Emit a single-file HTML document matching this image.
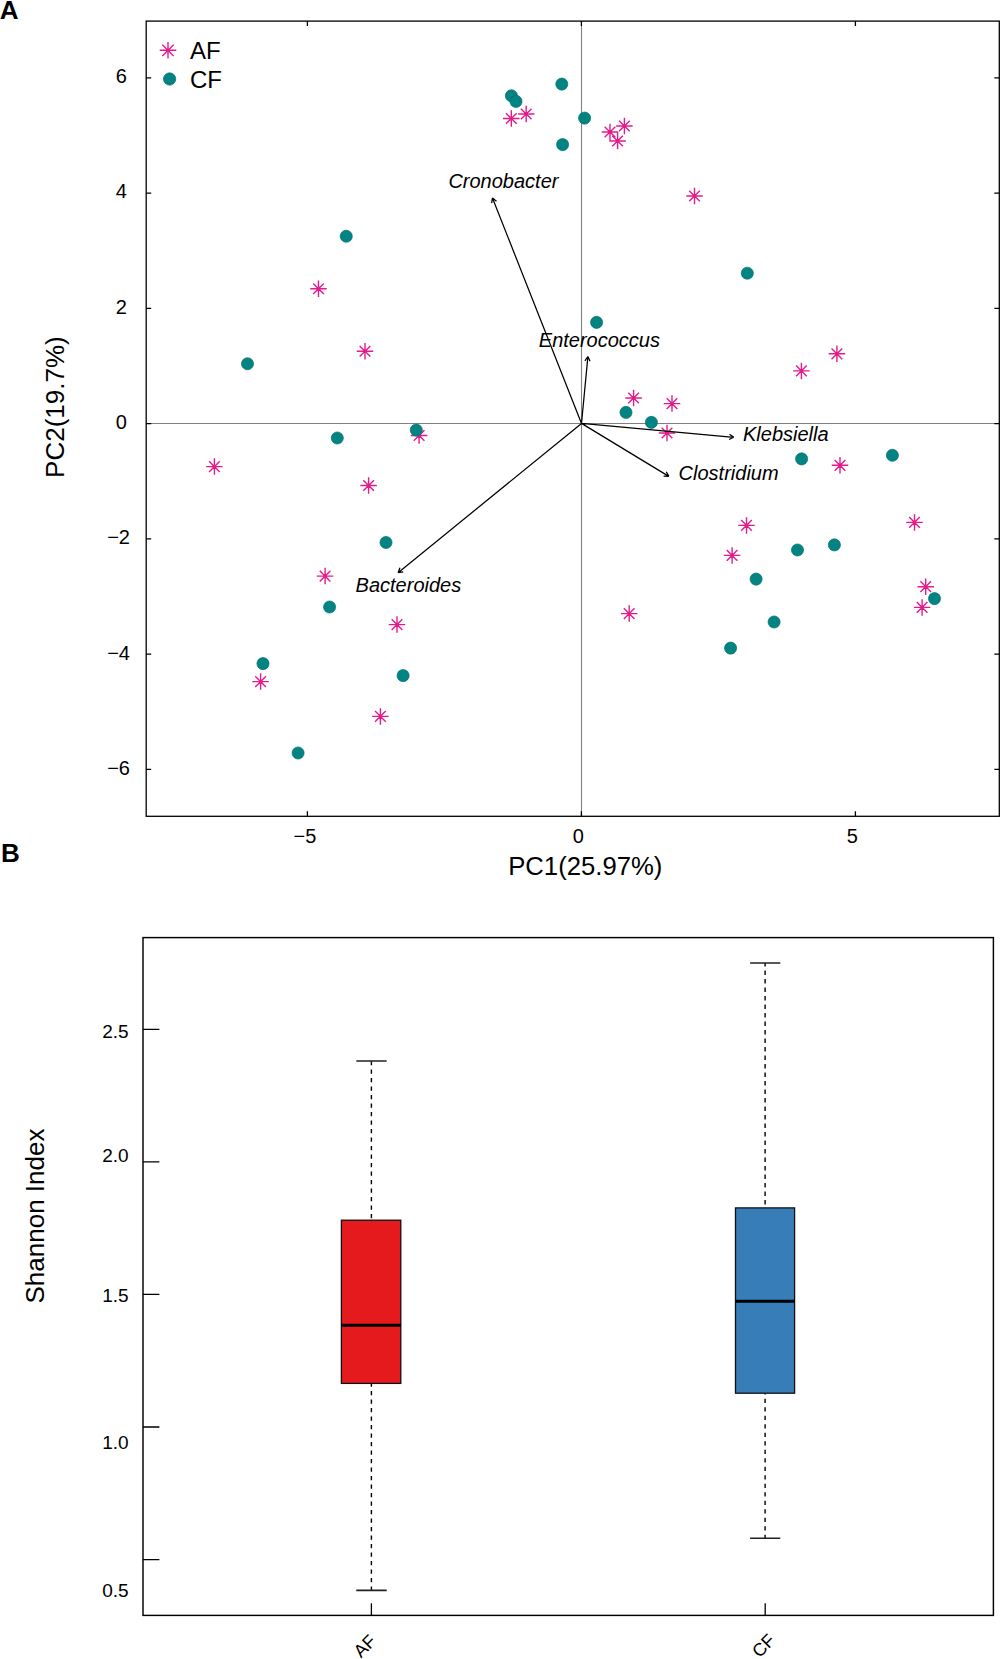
<!DOCTYPE html>
<html><head><meta charset="utf-8"><title>Figure</title>
<style>
html,body{margin:0;padding:0;background:#fff;}
body{width:1000px;height:1659px;overflow:hidden;}
svg{display:block;}
text{font-family:"Liberation Sans",sans-serif;fill:#000;}
.it{font-style:italic;font-size:20px;}
</style></head><body>
<svg width="1000" height="1659" viewBox="0 0 1000 1659">
<rect width="1000" height="1659" fill="#fff"/>

<text x="-0.3" y="18.9" font-size="26" font-weight="bold">A</text>
<text x="0.9" y="861.8" font-size="26" font-weight="bold">B</text>
<path d="M146.2 423.55H999.3M581.5 21.1V816.3" stroke="#808080" stroke-width="1.1" fill="none"/>
<path d="M307.40 816.3v-5M307.40 21.1v5M581.40 816.3v-5M581.40 21.1v5M855.40 816.3v-5M855.40 21.1v5M146.2 769.38h5M999.3 769.38h-5M146.2 654.12h5M999.3 654.12h-5M146.2 538.86h5M999.3 538.86h-5M146.2 423.60h5M999.3 423.60h-5M146.2 308.34h5M999.3 308.34h-5M146.2 193.08h5M999.3 193.08h-5M146.2 77.82h5M999.3 77.82h-5" stroke="#000" stroke-width="1.3" fill="none"/>
<text x="304.90" y="843" font-size="20" text-anchor="middle">−5</text>
<text x="578.20" y="843" font-size="20" text-anchor="middle">0</text>
<text x="852.20" y="843" font-size="20" text-anchor="middle">5</text>
<text x="130.0" y="774.78" font-size="20" text-anchor="end">−6</text>
<text x="130.0" y="659.52" font-size="20" text-anchor="end">−4</text>
<text x="130.0" y="544.26" font-size="20" text-anchor="end">−2</text>
<text x="126.8" y="429.00" font-size="20" text-anchor="end">0</text>
<text x="126.8" y="313.74" font-size="20" text-anchor="end">2</text>
<text x="126.8" y="198.48" font-size="20" text-anchor="end">4</text>
<text x="126.8" y="83.22" font-size="20" text-anchor="end">6</text>
<text x="508.2" y="874.8" font-size="25.7">PC1(25.97%)</text>
<text transform="translate(63.7 407.1) rotate(-90)" font-size="26" text-anchor="middle">PC2(19.7%)</text>
<path d="M503.05 118.50H519.55M511.30 110.25V126.75M505.95 113.15L516.65 123.85M505.95 123.85L516.65 113.15M517.95 114.00H534.45M526.20 105.75V122.25M520.85 108.65L531.55 119.35M520.85 119.35L531.55 108.65M601.75 132.00H618.25M610.00 123.75V140.25M604.65 126.65L615.35 137.35M604.65 137.35L615.35 126.65M616.15 126.00H632.65M624.40 117.75V134.25M619.05 120.65L629.75 131.35M619.05 131.35L629.75 120.65M609.35 141.00H625.85M617.60 132.75V149.25M612.25 135.65L622.95 146.35M612.25 146.35L622.95 135.65M686.25 196.00H702.75M694.50 187.75V204.25M689.15 190.65L699.85 201.35M689.15 201.35L699.85 190.65M310.25 288.75H326.75M318.50 280.50V297.00M313.15 283.40L323.85 294.10M313.15 294.10L323.85 283.40M356.75 351.25H373.25M365.00 343.00V359.50M359.65 345.90L370.35 356.60M359.65 356.60L370.35 345.90M206.15 466.60H222.65M214.40 458.35V474.85M209.05 461.25L219.75 471.95M209.05 471.95L219.75 461.25M410.85 435.50H427.35M419.10 427.25V443.75M413.75 430.15L424.45 440.85M413.75 440.85L424.45 430.15M360.35 485.50H376.85M368.60 477.25V493.75M363.25 480.15L373.95 490.85M363.25 490.85L373.95 480.15M316.85 576.10H333.35M325.10 567.85V584.35M319.75 570.75L330.45 581.45M319.75 581.45L330.45 570.75M388.75 624.60H405.25M397.00 616.35V632.85M391.65 619.25L402.35 629.95M391.65 629.95L402.35 619.25M252.35 681.60H268.85M260.60 673.35V689.85M255.25 676.25L265.95 686.95M255.25 686.95L265.95 676.25M372.15 716.40H388.65M380.40 708.15V724.65M375.05 711.05L385.75 721.75M375.05 721.75L385.75 711.05M625.35 398.00H641.85M633.60 389.75V406.25M628.25 392.65L638.95 403.35M628.25 403.35L638.95 392.65M663.75 403.60H680.25M672.00 395.35V411.85M666.65 398.25L677.35 408.95M666.65 408.95L677.35 398.25M658.75 433.00H675.25M667.00 424.75V441.25M661.65 427.65L672.35 438.35M661.65 438.35L672.35 427.65M828.65 353.80H845.15M836.90 345.55V362.05M831.55 348.45L842.25 359.15M831.55 359.15L842.25 348.45M793.15 370.90H809.65M801.40 362.65V379.15M796.05 365.55L806.75 376.25M796.05 376.25L806.75 365.55M831.75 465.30H848.25M840.00 457.05V473.55M834.65 459.95L845.35 470.65M834.65 470.65L845.35 459.95M738.25 525.40H754.75M746.50 517.15V533.65M741.15 520.05L751.85 530.75M741.15 530.75L751.85 520.05M723.85 555.40H740.35M732.10 547.15V563.65M726.75 550.05L737.45 560.75M726.75 560.75L737.45 550.05M906.25 522.40H922.75M914.50 514.15V530.65M909.15 517.05L919.85 527.75M909.15 527.75L919.85 517.05M917.45 586.70H933.95M925.70 578.45V594.95M920.35 581.35L931.05 592.05M920.35 592.05L931.05 581.35M913.85 607.40H930.35M922.10 599.15V615.65M916.75 602.05L927.45 612.75M916.75 612.75L927.45 602.05M620.95 613.60H637.45M629.20 605.35V621.85M623.85 608.25L634.55 618.95M623.85 618.95L634.55 608.25" stroke="#E41C8A" stroke-width="1.4" fill="none"/>
<g fill="#048383" stroke="#037070" stroke-width="0.7"><circle cx="561.8" cy="84.1" r="6.05"/><circle cx="511.4" cy="95.8" r="6.05"/><circle cx="516" cy="101.4" r="6.05"/><circle cx="584.6" cy="118.1" r="6.05"/><circle cx="562.6" cy="144.6" r="6.05"/><circle cx="346.25" cy="236.25" r="6.05"/><circle cx="247.5" cy="363.75" r="6.05"/><circle cx="337.3" cy="438" r="6.05"/><circle cx="416.3" cy="430.1" r="6.05"/><circle cx="386" cy="542.5" r="6.05"/><circle cx="329.6" cy="607" r="6.05"/><circle cx="263" cy="663.6" r="6.05"/><circle cx="403.1" cy="675.6" r="6.05"/><circle cx="298.1" cy="753" r="6.05"/><circle cx="596.6" cy="322.4" r="6.05"/><circle cx="626" cy="412.4" r="6.05"/><circle cx="651.4" cy="422.4" r="6.05"/><circle cx="747.3" cy="273.2" r="6.05"/><circle cx="801.6" cy="458.9" r="6.05"/><circle cx="892.4" cy="455.3" r="6.05"/><circle cx="797.5" cy="550" r="6.05"/><circle cx="834.4" cy="544.9" r="6.05"/><circle cx="756.1" cy="579.1" r="6.05"/><circle cx="774.1" cy="622" r="6.05"/><circle cx="730.6" cy="648.1" r="6.05"/><circle cx="934.5" cy="598.6" r="6.05"/></g>
<path d="M581.5 423.4L492.45 197.95M491.69 203.09L492.45 197.95M496.52 201.18L492.45 197.95M581.5 423.4L587.90 356.60M584.88 360.83L587.90 356.60M590.06 361.33L587.90 356.60M581.5 423.4L733.75 437.30M729.50 434.30L733.75 437.30M729.03 439.48L733.75 437.30M581.5 423.4L668.80 476.35M666.30 471.79L668.80 476.35M663.60 476.24L668.80 476.35M581.5 423.4L398.10 572.70M403.23 571.87L398.10 572.70M399.95 567.84L398.10 572.70" stroke="#000" stroke-width="1.25" fill="none" stroke-linecap="butt"/>
<text class="it" x="448.4" y="188.4">Cronobacter</text>
<text class="it" x="538.8" y="346.7">Enterococcus</text>
<text class="it" x="743.0" y="441.2">Klebsiella</text>
<text class="it" x="678.6" y="480.4">Clostridium</text>
<text class="it" x="355.6" y="592.2">Bacteroides</text>
<path d="M159.70 50.30H176.30M168.00 42.00V58.60M162.40 44.70L173.60 55.90M162.40 55.90L173.60 44.70" stroke="#E41C8A" stroke-width="1.4" fill="none"/>
<circle cx="169.6" cy="79" r="6.15" fill="#048383" stroke="#037070" stroke-width="0.7"/>
<text x="190" y="59" font-size="24">AF</text>
<text x="190" y="88" font-size="24">CF</text>
<rect x="146.2" y="21.1" width="853.0999999999999" height="795.1999999999999" fill="none" stroke="#000" stroke-width="1.3"/>
<path d="M143.0 1029.4h16.4M143.0 1161.8h16.4M143.0 1294.4h16.4M143.0 1427h16.4M143.0 1559.6h16.4M371.4 1615.4V1603.2M765.2 1615.4V1603.2" stroke="#000" stroke-width="1.3" fill="none"/>
<text x="128.6" y="1037.6" font-size="19" text-anchor="end">2.5</text>
<text x="128.6" y="1162.4" font-size="19" text-anchor="end">2.0</text>
<text x="128.6" y="1301.8" font-size="19" text-anchor="end">1.5</text>
<text x="128.6" y="1449.4" font-size="19" text-anchor="end">1.0</text>
<text x="128.6" y="1596.8" font-size="19" text-anchor="end">0.5</text>
<text transform="translate(44.2 1216) rotate(-90)" font-size="26" text-anchor="middle">Shannon Index</text>
<path d="M371.4 1220.2V1061.0" stroke="#000" stroke-width="1.4" stroke-dasharray="4.4 4.1" stroke-dashoffset="6.6" fill="none"/><path d="M371.4 1383.4V1590.4" stroke="#000" stroke-width="1.4" stroke-dasharray="4.4 4.1" stroke-dashoffset="1.0" fill="none"/><path d="M356.3 1061.0H386.7M356.3 1590.4H386.7" stroke="#222" stroke-width="1.6" fill="none"/><rect x="341.4" y="1220.2" width="59.400000000000034" height="163.20000000000005" fill="#E41A1C" stroke="#111" stroke-width="1.3"/><path d="M341.4 1325.3H400.8" stroke="#000" stroke-width="3"/>
<path d="M765.1 1207.9V962.95" stroke="#000" stroke-width="1.4" stroke-dasharray="4.4 4.1" stroke-dashoffset="5.0" fill="none"/><path d="M765.1 1393.2V1538.3" stroke="#000" stroke-width="1.4" stroke-dasharray="4.4 4.1" stroke-dashoffset="3.0" fill="none"/><path d="M750.1 962.95H780.3M750.1 1538.3H780.3" stroke="#222" stroke-width="1.6" fill="none"/><rect x="735.5" y="1207.9" width="59.10000000000002" height="185.29999999999995" fill="#377EB8" stroke="#111" stroke-width="1.3"/><path d="M735.5 1301.3H794.6" stroke="#000" stroke-width="3"/>
<rect x="143.0" y="937.6" width="850.4" height="677.8000000000001" fill="none" stroke="#000" stroke-width="1.45"/>
<text transform="translate(360.9 1658.4) rotate(-45)" font-size="18">AF</text>
<text transform="translate(759.4 1658.55) rotate(-45)" font-size="18">CF</text>
</svg>
</body></html>
